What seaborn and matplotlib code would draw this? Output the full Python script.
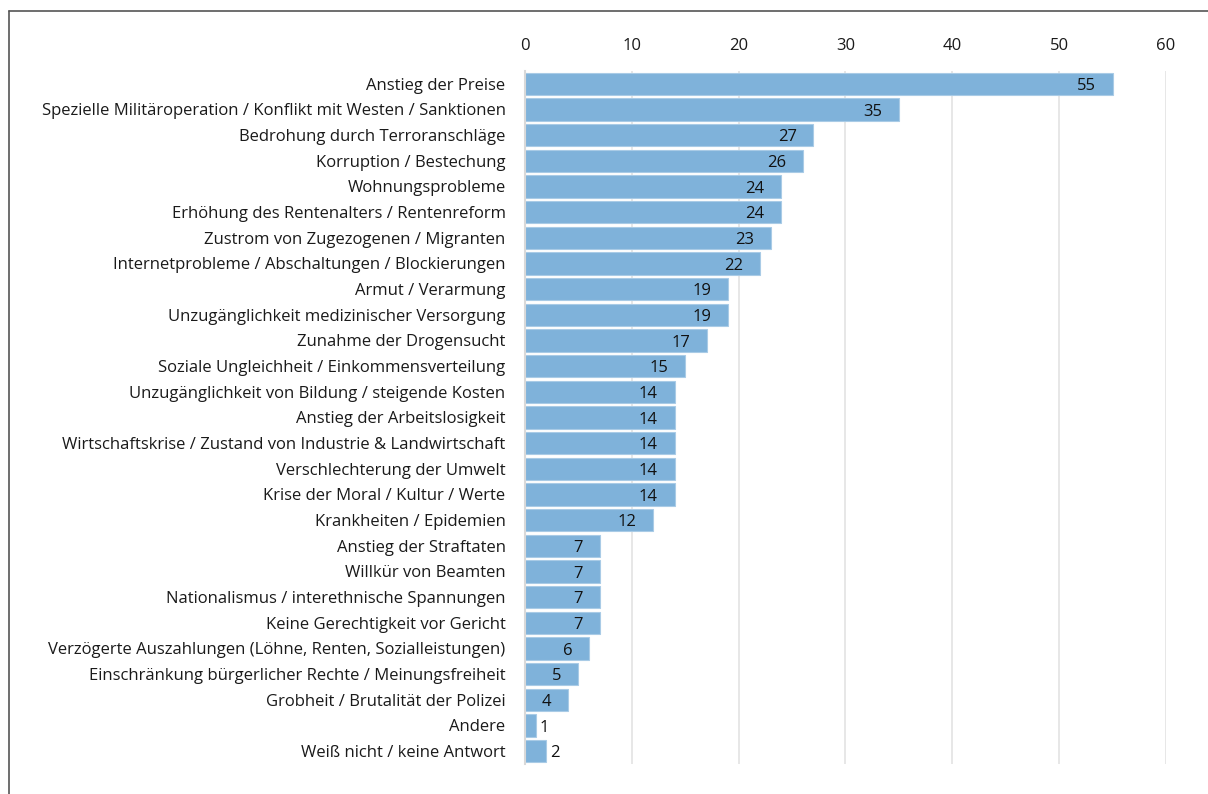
import pandas as pd
import seaborn as sns
import matplotlib.pyplot as plt
from matplotlib.lines import Line2D

categories = [
    "Anstieg der Preise",
    "Spezielle Militäroperation / Konflikt mit Westen / Sanktionen",
    "Bedrohung durch Terroranschläge",
    "Korruption / Bestechung",
    "Wohnungsprobleme",
    "Erhöhung des Rentenalters / Rentenreform",
    "Zustrom von Zugezogenen / Migranten",
    "Internetprobleme / Abschaltungen / Blockierungen",
    "Armut / Verarmung",
    "Unzugänglichkeit medizinischer Versorgung",
    "Zunahme der Drogensucht",
    "Soziale Ungleichheit / Einkommensverteilung",
    "Unzugänglichkeit von Bildung / steigende Kosten",
    "Anstieg der Arbeitslosigkeit",
    "Wirtschaftskrise / Zustand von Industrie & Landwirtschaft",
    "Verschlechterung der Umwelt",
    "Krise der Moral / Kultur / Werte",
    "Krankheiten / Epidemien",
    "Anstieg der Straftaten",
    "Willkür von Beamten",
    "Nationalismus / interethnische Spannungen",
    "Keine Gerechtigkeit vor Gericht",
    "Verzögerte Auszahlungen (Löhne, Renten, Sozialleistungen)",
    "Einschränkung bürgerlicher Rechte / Meinungsfreiheit",
    "Grobheit / Brutalität der Polizei",
    "Andere",
    "Weiß nicht / keine Antwort",
]
values = [55, 35, 27, 26, 24, 24, 23, 22, 19, 19, 17, 15, 14, 14, 14, 14, 14,
          12, 7, 7, 7, 7, 6, 5, 4, 1, 2]
xticks = [0, 10, 20, 30, 40, 50, 60]

df = pd.DataFrame({"cat": categories, "val": values})

sns.set_theme(style="white")
plt.rcParams["font.family"] = ["Open Sans", "DejaVu Sans"]
fs = 12

fig = plt.figure(figsize=(12.08, 7.94), dpi=100)
ax = fig.add_axes([0.4346, 0.0378, 0.9652 - 0.4346, 0.9106 - 0.0378])

sns.barplot(data=df, x="val", y="cat", ax=ax, color="#7fb2da", saturation=1,
            width=0.87, edgecolor="#a9cbe6", linewidth=0.8)

ax.set_xlim(0, 60)
ax.set_xticks(xticks)
ax.xaxis.tick_top()
ax.tick_params(axis="x", length=0, pad=12, labelsize=fs, colors="#1a1a1a")
ax.tick_params(axis="y", length=0, pad=14, labelsize=fs, colors="#1a1a1a")
ax.set_xlabel("")
ax.set_ylabel("")
ax.grid(axis="x", color="#e3e3e3", linewidth=1.2)
ax.set_axisbelow(True)
for s in ["top", "right", "bottom"]:
    ax.spines[s].set_visible(False)
ax.spines["left"].set_color("#d9d9d9")
ax.spines["left"].set_linewidth(1.5)

# value labels
for i, v in enumerate(values):
    if v >= 3:
        ax.annotate(str(v), (v, i), xytext=(-12, -1.5), textcoords="offset points",
                    ha="right", va="center", fontsize=fs, color="#111111")
    else:
        ax.annotate(str(v), (v, i), xytext=(3, -1.5), textcoords="offset points",
                    ha="left", va="center", fontsize=fs, color="#111111")

# frame around the chart area
fig.add_artist(Line2D([9 / 1208, 1], [1 - 11 / 794, 1 - 11 / 794],
                      transform=fig.transFigure, color="#555555", linewidth=1.2))
fig.add_artist(Line2D([9 / 1208, 9 / 1208], [0, 1 - 11 / 794],
                      transform=fig.transFigure, color="#555555", linewidth=1.2))

fig.savefig("out.png", dpi=100)
